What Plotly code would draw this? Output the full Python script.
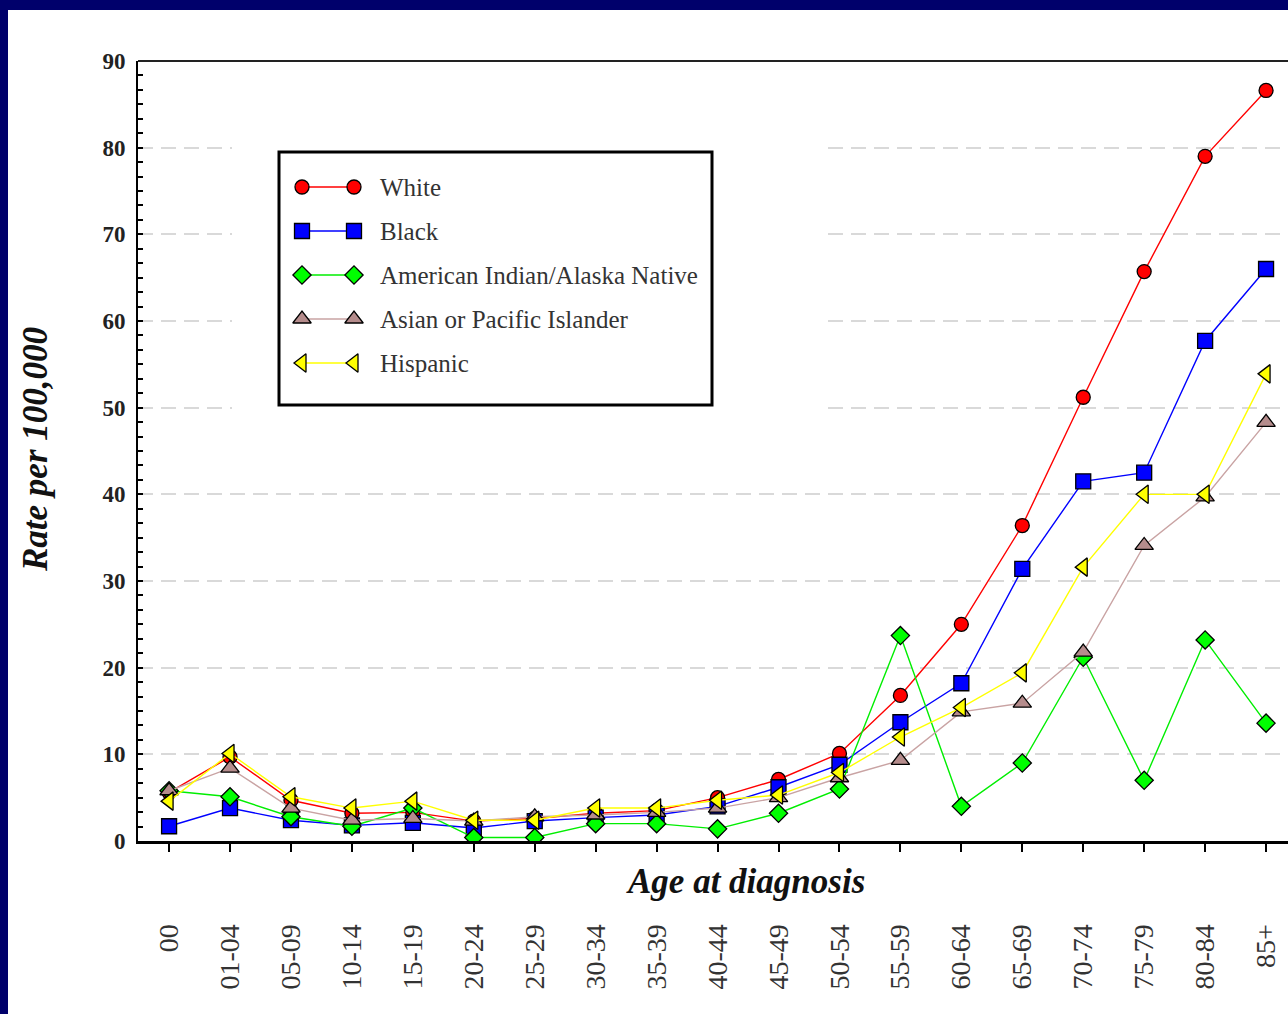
import plotly.graph_objects as go

# Age groups at diagnosis
age_groups = ["00", "01-04", "05-09", "10-14", "15-19", "20-24", "25-29", "30-34",
              "35-39", "40-44", "45-49", "50-54", "55-59", "60-64", "65-69",
              "70-74", "75-79", "80-84", "85+"]

# Rates per 100,000 by race/ethnicity
white = [5.6, 9.7, 4.7, 3.2, 3.3, 2.3, 2.6, 3.2, 3.5, 5.0, 7.1, 10.1, 16.8,
         25.0, 36.4, 51.2, 65.7, 79.0, 86.6]
black = [1.7, 3.8, 2.4, 1.8, 2.1, 1.5, 2.3, 2.7, 3.0, 4.0, 6.2, 8.8, 13.7,
         18.2, 31.4, 41.5, 42.5, 57.7, 66.0]
aian = [5.8, 5.1, 2.8, 1.7, 3.8, 0.4, 0.4, 2.0, 2.0, 1.4, 3.2, 6.0, 23.7,
        4.0, 9.0, 21.2, 7.0, 23.2, 13.6]
api = [5.8, 8.4, 3.8, 2.4, 2.6, 2.3, 2.8, 3.0, 3.3, 3.8, 5.0, 7.3, 9.3,
       14.9, 15.9, 21.8, 34.1, 39.7, 48.3]
hispanic = [4.6, 10.1, 5.1, 3.8, 4.6, 2.4, 2.4, 3.8, 3.8, 4.7, 5.3, 7.9, 12.0,
            15.4, 19.4, 31.6, 40.0, 40.0, 53.9]

series_names = ["White", "Black", "American Indian/Alaska Native",
                "Asian or Pacific Islander", "Hispanic"]
series_values = [white, black, aian, api, hispanic]

y_ticks = [0, 10, 20, 30, 40, 50, 60, 70, 80, 90]

# styling per series: (line colour, marker fill, symbol, marker size)
styles = [
    ("#ff0000", "#ff0000", "circle", 14),
    ("#0000ff", "#0000ff", "square", 15),
    ("#00ee00", "#00ff00", "diamond", 14),
    ("#c9a3a3", "#b58c8c", "triangle-up", 16),
    ("#ffff00", "#ffff00", "triangle-left", 16),
]

SERIF = "Liberation Serif"
W, H = 1288, 1014
L, R, T, B = 138, 0, 61, 173
PW, PH = W - L - R, H - T - B


def px_x(p):
    return (p - L) / PW


def px_y(p):
    return (H - B - p) / PH


fig = go.Figure()

for name, vals, (lc, mc, sym, sz) in zip(series_names, series_values, styles):
    fig.add_trace(go.Scatter(
        x=age_groups, y=vals, name=name, mode="lines+markers",
        line=dict(color=lc, width=1.4),
        marker=dict(symbol=sym, size=sz, color=mc,
                    line=dict(color="black", width=1.3)),
        showlegend=False, xaxis="x", yaxis="y",
    ))

# legend panel: a small subplot of its own (its white background also
# blanks the gridlines behind it); each entry is marker - line - marker
PANEL = (232, 826, 139, 413)          # left, right, top, bottom in pixels
ROW0, ROW_STEP = 187, 44              # first row centre, row spacing
MARK0, MARK_STEP = 302, 52            # first swatch marker, swatch length

for i, (name, (lc, mc, sym, sz)) in enumerate(zip(series_names, styles)):
    fig.add_trace(go.Scatter(
        x=[0, 1], y=[i, i], mode="lines+markers",
        line=dict(color=lc, width=1.4),
        marker=dict(symbol=sym, size=sz, color=mc,
                    line=dict(color="black", width=1.3)),
        showlegend=False, hoverinfo="skip", xaxis="x2", yaxis="y2",
    ))
    fig.add_annotation(x=(378 - MARK0) / MARK_STEP, y=i, xref="x2", yref="y2",
                       text=name, showarrow=False, xanchor="left",
                       yanchor="middle",
                       font=dict(family=SERIF, size=25, color="#333333"))

x2_lo = -(MARK0 - PANEL[0]) / MARK_STEP
x2_hi = x2_lo + (PANEL[1] - PANEL[0]) / MARK_STEP
y2_top = -(ROW0 - PANEL[2]) / ROW_STEP
y2_bot = y2_top + (PANEL[3] - PANEL[2]) / ROW_STEP

fig.update_layout(
    width=W, height=H,
    margin=dict(l=L, r=R, t=T, b=B, pad=0),
    paper_bgcolor="white", plot_bgcolor="white",
    showlegend=False,
    xaxis=dict(
        type="category", range=[-0.51, 18.36],
        showline=True, linecolor="black", linewidth=3,
        ticks="outside", ticklen=8, tickwidth=1.5, tickcolor="black",
        tickangle=-90, ticklabelstandoff=61,
        tickfont=dict(family=SERIF, size=28, color="#333333"),
        showgrid=False, zeroline=False,
    ),
    yaxis=dict(
        range=[0, 90], tickvals=y_ticks,
        showline=True, linecolor="black", linewidth=2,
        ticks="inside", ticklen=5, tickwidth=1.5, tickcolor="black",
        minor=dict(dtick=10 / 6, ticks="inside", ticklen=5,
                   tickwidth=1.5, tickcolor="black", showgrid=False),
        ticklabelstandoff=6,
        tickfont=dict(family=SERIF, size=23, color="#222222", weight="bold"),
        showgrid=True, gridcolor="#d9d9d9", gridwidth=1.5,
        griddash="15px,8px", zeroline=False,
    ),
    xaxis2=dict(domain=[px_x(PANEL[0]), px_x(PANEL[1])], anchor="y2",
                range=[x2_lo, x2_hi], visible=False, fixedrange=True),
    yaxis2=dict(domain=[px_y(PANEL[3]), px_y(PANEL[2])], anchor="x2",
                range=[y2_bot, y2_top], visible=False, fixedrange=True),
)

# legend frame
leg_x0, leg_x1, leg_y0, leg_y1 = 279, 712, 152, 405
fig.add_shape(type="rect", xref="paper", yref="paper",
              x0=px_x(leg_x0), x1=px_x(leg_x1), y0=px_y(leg_y1), y1=px_y(leg_y0),
              line=dict(color="black", width=3), fillcolor="rgba(0,0,0,0)",
              layer="above")

# top frame line of the plot area
fig.add_shape(type="line", xref="paper", yref="paper",
              x0=0, x1=1, y0=1, y1=1, line=dict(color="#222222", width=2),
              layer="above")

# navy frame around the slide
NAVY = "#00006b"
fig.add_shape(type="rect", xref="paper", yref="paper",
              x0=px_x(-20), x1=px_x(W + 20), y0=px_y(10), y1=px_y(-20),
              fillcolor=NAVY, line=dict(width=0), layer="above")
fig.add_shape(type="rect", xref="paper", yref="paper",
              x0=px_x(-20), x1=px_x(8), y0=px_y(H + 20), y1=px_y(-20),
              fillcolor=NAVY, line=dict(width=0), layer="above")

# axis titles
fig.add_annotation(text="<b><i>Age at diagnosis</i></b>", xref="paper", yref="paper",
                   x=px_x(745), y=px_y(881), showarrow=False,
                   xanchor="center", yanchor="middle",
                   font=dict(family=SERIF, size=35, color="#111111"))
fig.add_annotation(text="<b><i>Rate per 100,000</i></b>", xref="paper", yref="paper",
                   x=px_x(35), y=px_y(450), showarrow=False, textangle=-90,
                   xanchor="center", yanchor="middle",
                   font=dict(family=SERIF, size=35, color="#111111"))

fig.write_html("out.html")
